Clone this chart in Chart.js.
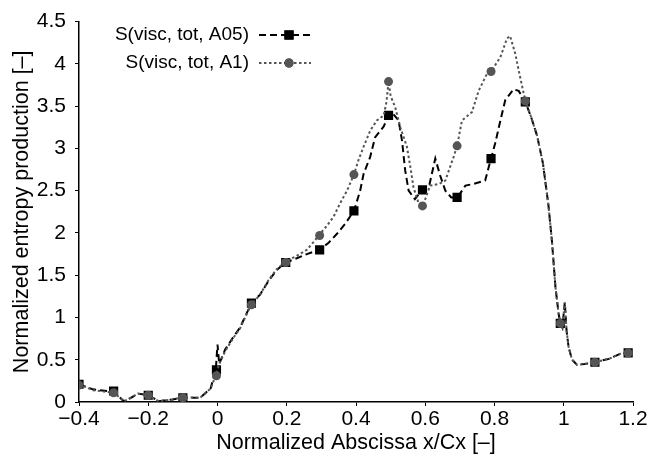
<!DOCTYPE html>
<html>
<head>
<meta charset="utf-8">
<script src="https://cdn.jsdelivr.net/npm/chart.js@4/dist/chart.umd.min.js"></script>
<style>
html,body{margin:0;padding:0;background:#fff;}
#wrap{width:660px;height:456px;position:relative;}
</style>
</head>
<body>
<div id="wrap"><canvas id="c" width="660" height="456"></canvas></div>
<script>
// ---- data ----
const seriesNames = ['S(visc, tot, A05)', 'S(visc, tot, A1)'];

const a05X = [-0.40,-0.36,-0.30,-0.27,-0.25,-0.23,-0.20,-0.17,-0.13,-0.10,-0.05,-0.02,-0.005,0.000,0.005,0.022,0.046,0.065,0.098,0.123,0.147,0.171,0.196,0.229,0.258,0.294,0.320,0.345,0.369,0.394,0.412,0.422,0.441,0.455,0.480,0.494,0.505,0.523,0.533,0.542,0.552,0.570,0.592,0.612,0.629,0.643,0.658,0.675,0.693,0.716,0.740,0.773,0.790,0.802,0.817,0.831,0.855,0.870,0.889,0.905,0.923,0.940,0.956,0.966,0.976,0.985,0.990,0.996,1.003,1.008,1.014,1.024,1.038,1.060,1.090,1.130,1.163,1.186];
const a05Y = [0.21,0.15,0.12,0.01,0.05,0.10,0.08,0.01,0.03,0.05,0.05,0.16,0.38,0.68,0.45,0.62,0.77,0.88,1.17,1.27,1.43,1.56,1.65,1.70,1.75,1.80,1.88,1.99,2.11,2.26,2.50,2.70,2.90,3.13,3.26,3.39,3.42,3.33,3.09,2.74,2.50,2.40,2.51,2.57,2.88,2.68,2.50,2.42,2.42,2.56,2.58,2.62,2.88,3.06,3.33,3.57,3.70,3.68,3.55,3.38,3.15,2.82,2.32,1.90,1.36,1.05,0.93,0.88,1.18,0.85,0.65,0.50,0.44,0.45,0.47,0.51,0.57,0.58];

const a1X = [-0.40,-0.36,-0.30,-0.27,-0.25,-0.23,-0.20,-0.17,-0.13,-0.10,-0.05,-0.02,-0.005,0.005,0.022,0.046,0.065,0.097,0.123,0.147,0.171,0.196,0.229,0.258,0.277,0.294,0.315,0.335,0.354,0.374,0.394,0.407,0.422,0.441,0.460,0.480,0.488,0.494,0.500,0.513,0.528,0.547,0.557,0.566,0.580,0.593,0.614,0.640,0.658,0.682,0.692,0.706,0.735,0.754,0.778,0.790,0.817,0.836,0.845,0.860,0.870,0.889,0.905,0.923,0.940,0.956,0.966,0.976,0.985,0.990,0.996,1.003,1.008,1.014,1.024,1.038,1.060,1.090,1.130,1.163,1.186];
const a1Y = [0.21,0.14,0.11,0.01,0.05,0.10,0.08,0.01,0.03,0.055,0.05,0.16,0.31,0.45,0.60,0.76,0.87,1.15,1.27,1.44,1.57,1.66,1.73,1.80,1.89,1.98,2.08,2.19,2.35,2.50,2.69,2.86,3.02,3.21,3.33,3.39,3.55,3.79,3.62,3.49,3.25,3.02,2.78,2.54,2.36,2.32,2.56,2.58,2.62,2.90,3.03,3.33,3.43,3.68,3.88,3.91,4.08,4.30,4.33,4.12,3.92,3.56,3.38,3.15,2.82,2.32,1.90,1.36,1.05,0.93,0.88,1.18,0.85,0.65,0.50,0.44,0.45,0.47,0.51,0.57,0.58];

const markX    = [-0.40,-0.30,-0.20,-0.10,-0.003,0.098,0.197,0.295,0.394,0.494,0.592,0.692,0.790,0.889,0.990,1.090,1.186];
const a05MarkY = [0.21,0.13,0.08,0.05,0.38,1.17,1.65,1.80,2.26,3.39,2.51,2.42,2.88,3.55,0.93,0.47,0.58];
const a1MarkY  = [0.20,0.11,0.08,0.05,0.31,1.15,1.65,1.97,2.69,3.79,2.32,3.03,3.91,3.56,0.93,0.47,0.58];

const xTicks = [-0.4,-0.2,0,0.2,0.4,0.6,0.8,1,1.2];
const xTickLabels = ['\u22120.4','\u22120.2','0','0.2','0.4','0.6','0.8','1','1.2'];
const yTicks = [0,0.5,1,1.5,2,2.5,3,3.5,4,4.5];
const yTickLabels = ['0','0.5','1','1.5','2','2.5','3','3.5','4','4.5'];

const xTitle = 'Normalized Abscissa x/Cx [\u2013]';
const yTitle = 'Normalized entropy production [\u2013]';

// ---- build ----
const zip = (xs, ys) => xs.map((x, i) => ({x: x, y: ys[i]}));
const BLACK = '#000000', GRAY = '#555555';
const FONT = '"Liberation Sans", Arial, sans-serif';

const datasets = [
  {label: seriesNames[0], data: zip(a05X, a05Y), showLine: true, borderColor: BLACK, borderWidth: 2,
   borderDash: [7,4], pointRadius: 0, fill: false, tension: 0, order: 3},
  {label: seriesNames[0] + ' markers', data: zip(markX, a05MarkY), showLine: false, pointStyle: 'rect',
   pointRadius: 6.5, backgroundColor: BLACK, borderColor: BLACK, borderWidth: 0, order: 2},
  {label: seriesNames[1], data: zip(a1X, a1Y), showLine: true, borderColor: GRAY, borderWidth: 2,
   borderDash: [2.5,2.5], pointRadius: 0, fill: false, tension: 0, order: 1},
  {label: seriesNames[1] + ' markers', data: zip(markX, a1MarkY), showLine: false, pointStyle: 'circle',
   pointRadius: 4.5, backgroundColor: GRAY, borderColor: GRAY, borderWidth: 0, order: 0}
];

const legendPlugin = {
  id: 'customLegend',
  afterDraw(chart) {
    const ctx = chart.ctx;
    const items = [
      {text: seriesNames[0], line: datasets[0], mark: datasets[1], y: 35},
      {text: seriesNames[1], line: datasets[2], mark: datasets[3], y: 63}
    ];
    ctx.save();
    items.forEach(it => {
      ctx.font = '19px ' + FONT;
      ctx.fillStyle = '#000';
      ctx.textAlign = 'right';
      ctx.textBaseline = 'middle';
      ctx.fillText(it.text, 249, it.y);
      ctx.beginPath();
      ctx.setLineDash(it.line.borderDash);
      ctx.lineDashOffset = 0;
      ctx.strokeStyle = it.line.borderColor;
      ctx.lineWidth = it.line.borderWidth;
      ctx.moveTo(259, it.y);
      ctx.lineTo(311, it.y);
      ctx.stroke();
      ctx.setLineDash([]);
      Chart.helpers.drawPoint(ctx, {pointStyle: it.mark.pointStyle, radius: it.mark.pointRadius, rotation: 0, borderWidth: 0}, 289, it.y);
      ctx.fillStyle = it.mark.backgroundColor;
      ctx.fill();
    });
    ctx.restore();
  }
};

new Chart(document.getElementById('c'), {
  type: 'scatter',
  data: {datasets: datasets},
  plugins: [legendPlugin],
  options: {
    responsive: false,
    animation: false,
    layout: {padding: {top: 21, right: 27, left: 0, bottom: 0}},
    plugins: {legend: {display: false}, tooltip: {enabled: false}},
    scales: {
      x: {
        type: 'linear', min: -0.4, max: 1.2,
        afterBuildTicks: (axis) => { axis.ticks = xTicks.map(v => ({value: v})); },
        afterFit: (axis) => { axis.height = 54; },
        ticks: {
          autoSkip: false, maxRotation: 0, color: '#000', padding: 1,
          font: {family: FONT, size: 21},
          callback: (v) => { const i = xTicks.findIndex(t => Math.abs(t - v) < 1e-9); return i >= 0 ? xTickLabels[i] : ''; }
        },
        grid: {display: true, drawOnChartArea: false, drawTicks: true, tickLength: 4, color: '#000', lineWidth: 1},
        border: {display: true, color: '#000', width: 1.5},
        title: {display: true, text: xTitle, color: '#000', font: {family: FONT, size: 21.5}, padding: {top: 0, bottom: 0}}
      },
      y: {
        type: 'linear', min: 0, max: 4.5,
        afterBuildTicks: (axis) => { axis.ticks = yTicks.map(v => ({value: v})); },
        afterFit: (axis) => { axis.width = 79; },
        ticks: {
          autoSkip: false, color: '#000', padding: 9,
          font: {family: FONT, size: 21},
          callback: (v) => { const i = yTicks.findIndex(t => Math.abs(t - v) < 1e-9); return i >= 0 ? yTickLabels[i] : ''; }
        },
        grid: {display: true, drawOnChartArea: false, drawTicks: true, tickLength: 4, color: '#000', lineWidth: 1},
        border: {display: true, color: '#000', width: 1.5},
        title: {display: true, text: yTitle, color: '#000', font: {family: FONT, size: 21.5}, padding: {top: 9, bottom: 0}}
      }
    }
  }
});
</script>
</body>
</html>
